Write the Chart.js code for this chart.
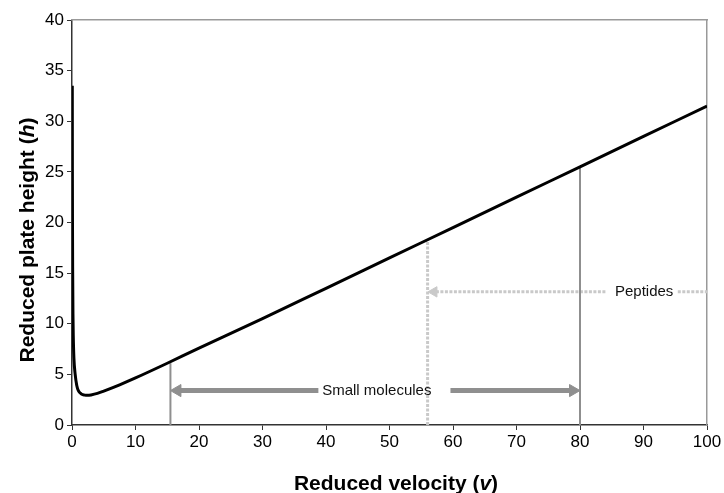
<!DOCTYPE html>
<html>
<head>
<meta charset="utf-8">
<script src="https://cdn.jsdelivr.net/npm/chart.js@4/dist/chart.umd.min.js"></script>
<style>
  html, body { margin: 0; padding: 0; background: #fff; }
  #wrap { width: 724px; height: 493px; }
</style>
</head>
<body>
<div id="wrap"><canvas id="c"></canvas></div>
<script>
// reduced velocity (v) and reduced plate height (h)
const velocity    = [0.045, 0.06, 0.08, 0.1, 0.15, 0.2, 0.3, 0.5, 0.75, 1, 1.5, 2, 2.5, 3, 4, 5, 7.5, 10, 15, 20, 30, 40, 50, 60, 70, 80, 90, 100];
const plateHeight = [33.5, 25.0, 19.3, 15.7, 11.0, 8.8, 6.6, 5.0, 3.9, 3.4, 3.05, 2.95, 2.93, 2.97, 3.12, 3.35, 3.97, 4.65, 6.1, 7.6, 10.5, 13.5, 16.5, 19.5, 22.5, 25.5, 28.5, 31.5];

// range markers: where the vertical lines drop from the curve
const smallMolLimits = [15.5, 80];
const smallMolTops   = [6.1, 25.5];
const peptideLimit   = 56;
const peptideTop     = 18.3;

// arrow rows
const smallMolArrowY = 3.4;
const smallMolLeft   = [38.8, 16.6];
const smallMolRight  = [59.6, 78.9];
const peptideArrowY  = 13.15;
const peptideLeft    = [84, 57.0];
const peptideRight   = [95.4, 100];

const labelText = ['Small molecules', 'Peptides'];
const labelX    = [48, 90.1];
const labelY    = [smallMolArrowY, peptideArrowY];

const xTicks = [0, 10, 20, 30, 40, 50, 60, 70, 80, 90, 100];
const yTicks = [0, 5, 10, 15, 20, 25, 30, 35, 40];

const dark = '#000';
const mid = '#8f8f8f';
const light = '#c9c9c9';

function pts(xs, ys) {
  return xs.map((x, i) => ({ x: x, y: ys[i] }));
}
function seg(x1, y1, x2, y2) {
  return [{ x: x1, y: y1 }, { x: x2, y: y2 }];
}

const plain = { pointRadius: 0, fill: false, tension: 0 };

const datasets = [
  Object.assign({ data: pts(velocity, plateHeight), borderColor: dark, borderWidth: 3,
    cubicInterpolationMode: 'monotone' }, plain),
  Object.assign({ data: seg(smallMolLimits[0], 0, smallMolLimits[0], smallMolTops[0]), borderColor: mid, borderWidth: 2 }, plain),
  Object.assign({ data: seg(smallMolLimits[1], 0, smallMolLimits[1], smallMolTops[1]), borderColor: mid, borderWidth: 2 }, plain),
  Object.assign({ data: seg(peptideLimit, 0, peptideLimit, peptideTop), borderColor: light, borderWidth: 3, borderDash: [3, 1.5] }, plain),
  {
    data: seg(smallMolLeft[0], smallMolArrowY, smallMolLeft[1], smallMolArrowY),
    borderColor: mid, borderWidth: 5, fill: false,
    pointStyle: 'triangle', pointRadius: [0, 7], pointRotation: [0, -90],
    pointBackgroundColor: mid, pointBorderColor: mid, pointBorderWidth: 1
  },
  {
    data: seg(smallMolRight[0], smallMolArrowY, smallMolRight[1], smallMolArrowY),
    borderColor: mid, borderWidth: 5, fill: false,
    pointStyle: 'triangle', pointRadius: [0, 7], pointRotation: [0, 90],
    pointBackgroundColor: mid, pointBorderColor: mid, pointBorderWidth: 1
  },
  {
    data: seg(peptideLeft[0], peptideArrowY, peptideLeft[1], peptideArrowY),
    borderColor: light, borderWidth: 3, borderDash: [3, 1.5], fill: false,
    pointStyle: 'triangle', pointRadius: [0, 6], pointRotation: [0, -90],
    pointBackgroundColor: light, pointBorderColor: light, pointBorderWidth: 1
  },
  Object.assign({ data: seg(peptideRight[0], peptideArrowY, peptideRight[1], peptideArrowY),
    borderColor: light, borderWidth: 3, borderDash: [3, 1.5] }, plain)
];

// labels on the arrows + axis titles (mixed bold / bold italic)
const textPlugin = {
  id: 'texts',
  afterDraw(chart) {
    const ctx = chart.ctx;
    const xs = chart.scales.x, ys = chart.scales.y;
    ctx.save();
    ctx.font = '15px "Liberation Sans", Arial, sans-serif';
    ctx.fillStyle = '#111';
    ctx.textAlign = 'center';
    ctx.textBaseline = 'middle';
    labelText.forEach((t, i) => {
      ctx.fillText(t, xs.getPixelForValue(labelX[i]), ys.getPixelForValue(labelY[i]));
    });

    function mixed(parts, cx, cy) {
      let w = 0;
      parts.forEach(p => { ctx.font = p[1]; w += ctx.measureText(p[0]).width; });
      let x = cx - w / 2;
      ctx.textAlign = 'left';
      parts.forEach(p => {
        ctx.font = p[1];
        ctx.fillText(p[0], x, cy);
        x += ctx.measureText(p[0]).width;
      });
    }
    const b = 'bold 21px "Liberation Sans", Arial, sans-serif';
    const bi = 'italic bold 21px "Liberation Sans", Arial, sans-serif';
    ctx.fillStyle = '#000';
    ctx.textBaseline = 'alphabetic';
    mixed([['Reduced velocity (', b], ['v', bi], [')', b]], 396, 490);
    ctx.translate(34, 240);
    ctx.rotate(-Math.PI / 2);
    mixed([['Reduced plate height (', b], ['h', bi], [')', b]], 0, 0);
    ctx.restore();
  }
};

const tickFont = { family: '"Liberation Sans", Arial, sans-serif', size: 17 };

new Chart(document.getElementById('c'), {
  type: 'line',
  data: { datasets: datasets },
  plugins: [textPlugin],
  options: {
    responsive: true,
    maintainAspectRatio: false,
    animation: false,
    layout: { padding: { top: 20, right: 17, left: 0, bottom: 0 } },
    plugins: { legend: { display: false }, tooltip: { enabled: false } },
    scales: {
      x: {
        type: 'linear', min: 0, max: 100,
        afterBuildTicks: s => { s.ticks = xTicks.map(v => ({ value: v })); },
        afterFit: s => { s.height = 68; },
        ticks: { color: '#000', font: tickFont, padding: 2, maxRotation: 0 },
        grid: { drawOnChartArea: false, tickLength: 5, color: '#333' },
        border: { color: '#333', width: 1.5 }
      },
      y: {
        type: 'linear', min: 0, max: 40,
        afterBuildTicks: s => { s.ticks = yTicks.map(v => ({ value: v })); },
        afterFit: s => { s.width = 72; },
        ticks: { color: '#000', font: tickFont, padding: 3 },
        grid: { drawOnChartArea: false, tickLength: 5, color: '#333' },
        border: { color: '#333', width: 1.5 }
      },
      top: {
        type: 'linear', position: 'top', min: 0, max: 100,
        afterFit: s => { s.height = 0; },
        ticks: { display: false },
        grid: { display: false },
        border: { color: '#999', width: 1.5 }
      },
      right: {
        type: 'linear', position: 'right', min: 0, max: 40,
        afterFit: s => { s.width = 0; },
        ticks: { display: false },
        grid: { display: false },
        border: { color: '#999', width: 1.5 }
      }
    }
  }
});
</script>
</body>
</html>
